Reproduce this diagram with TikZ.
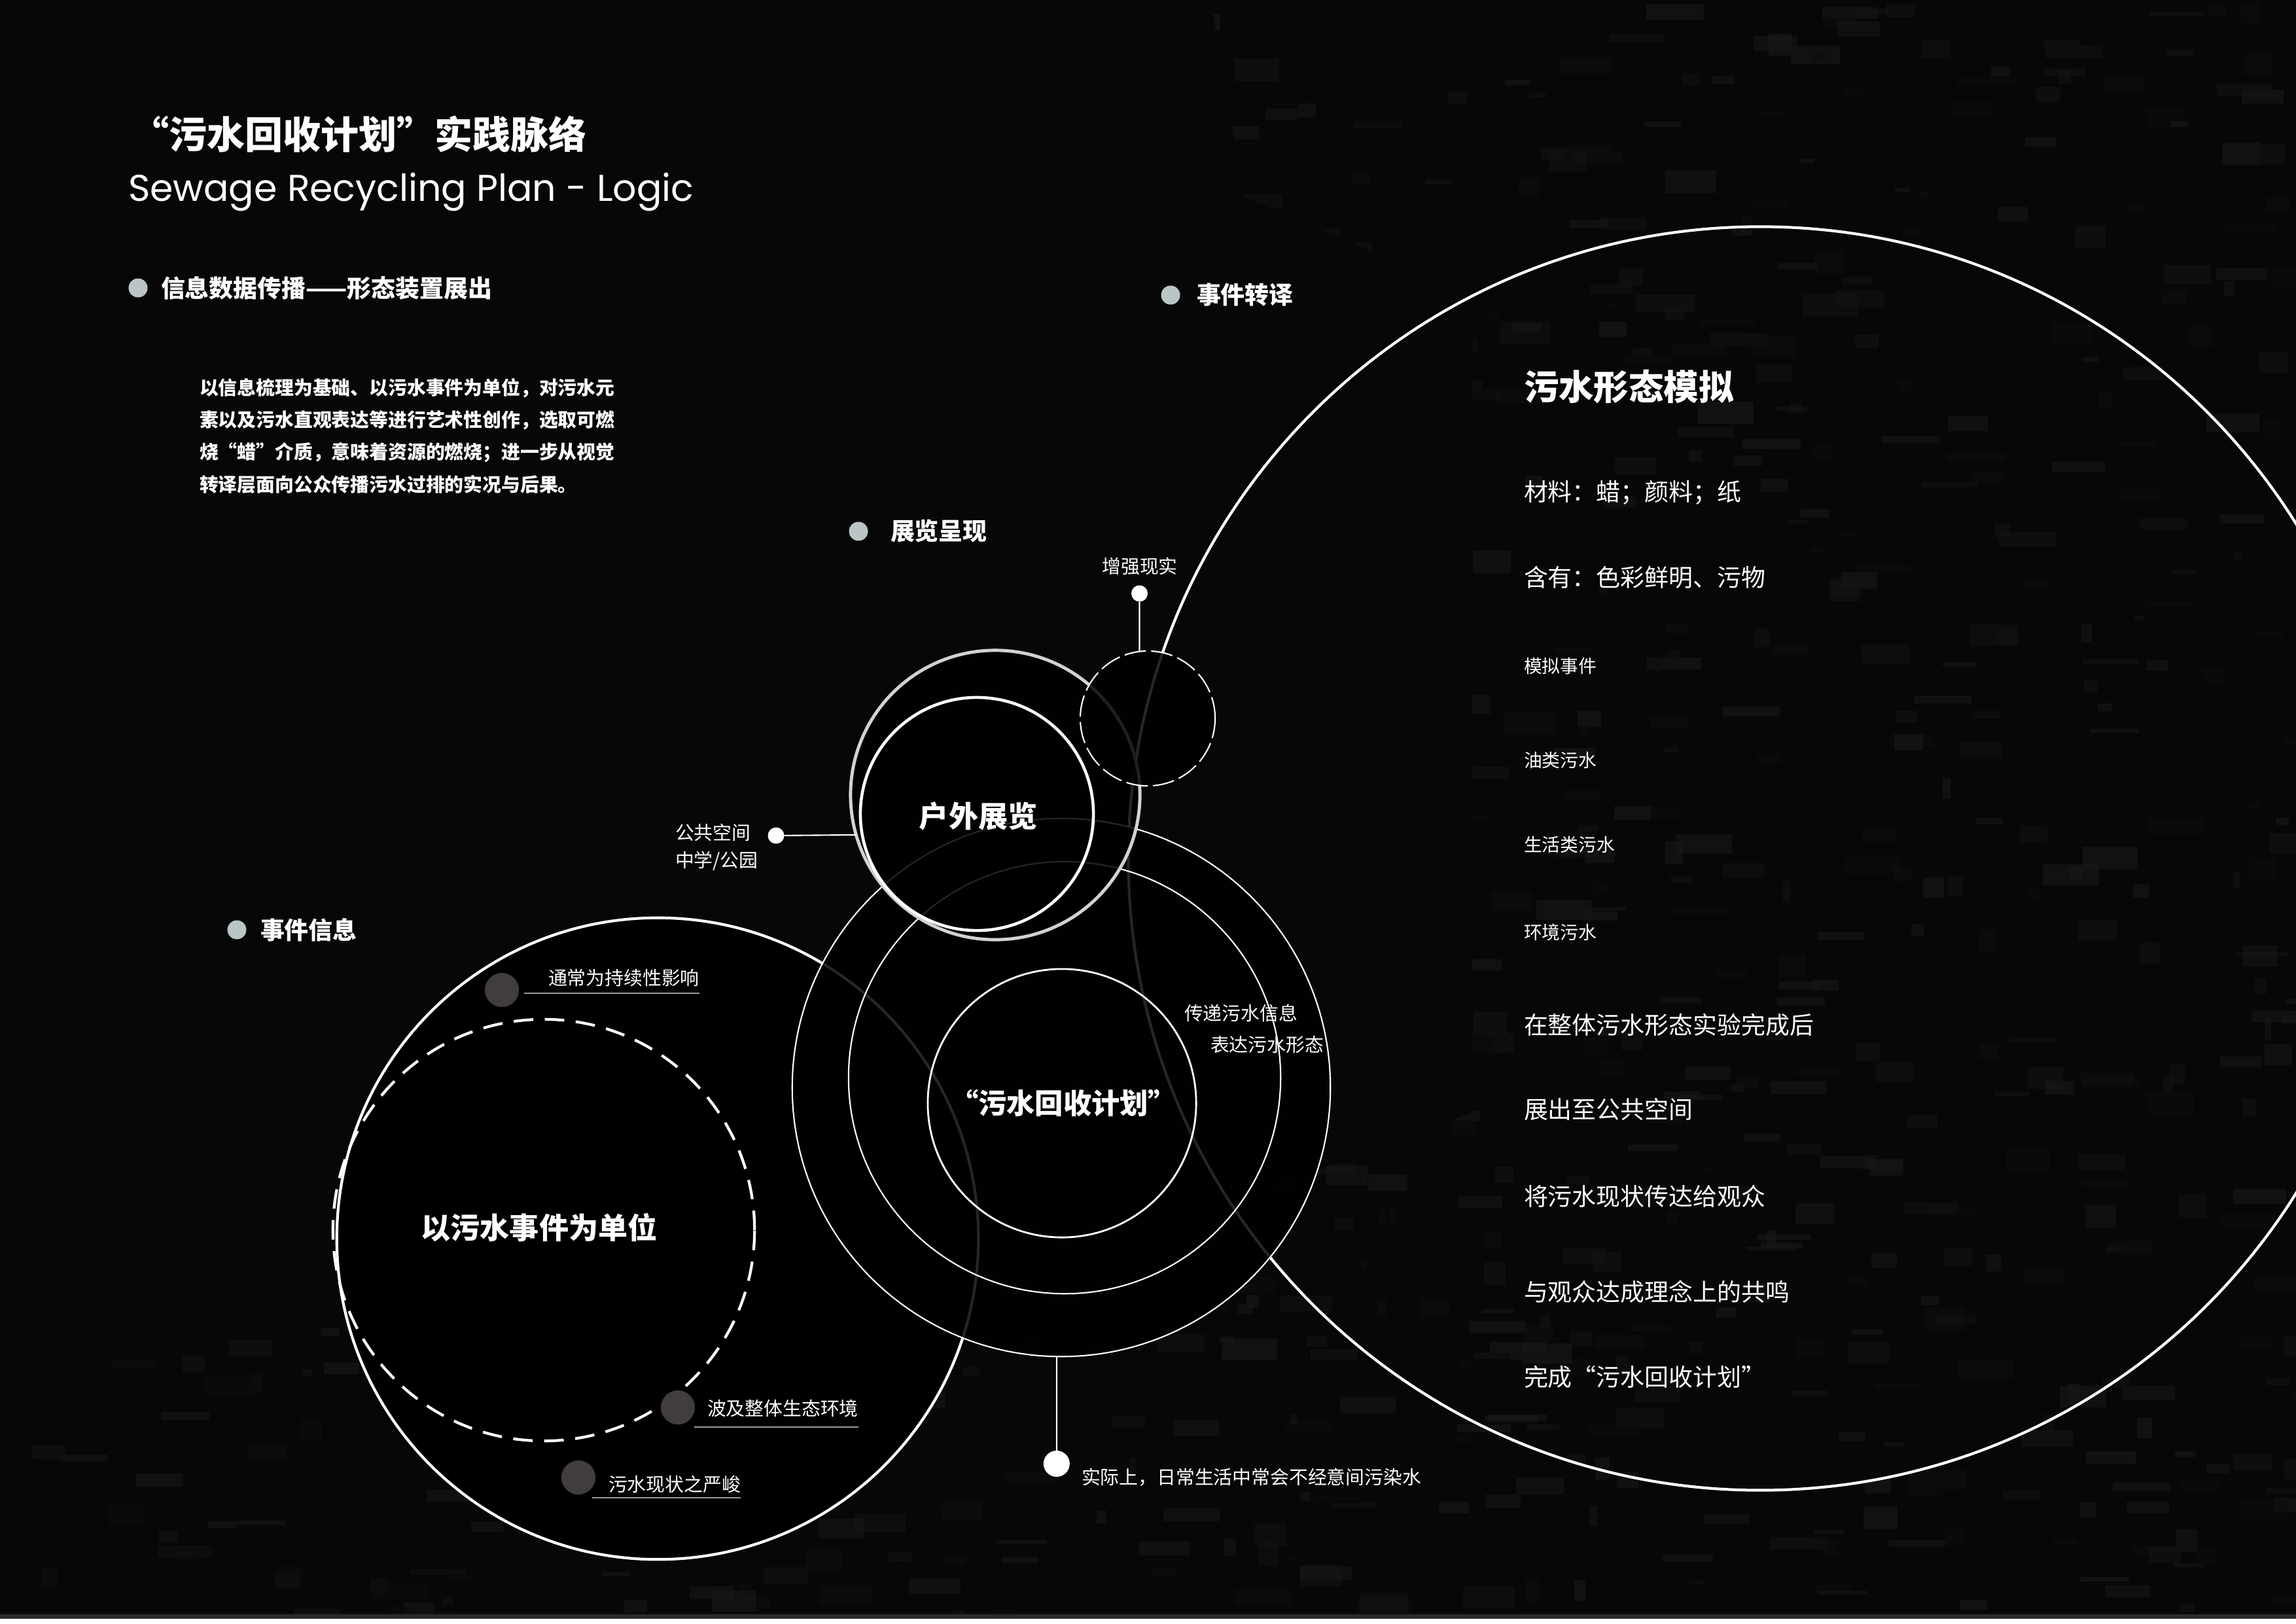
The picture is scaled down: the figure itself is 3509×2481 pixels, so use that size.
\documentclass[tikz,border=0pt]{standalone}
\usepackage{fontspec}
\setmainfont{Noto Sans CJK SC}
\newfontfamily\enfont{Poppins}
\usetikzlibrary{calc}
\definecolor{bg}{HTML}{070707}
\definecolor{bulcol}{HTML}{B9C5C6}
\definecolor{planetgray}{HTML}{403D3C}
\definecolor{ringgray}{HTML}{D2D2D2}
\definecolor{ulgray}{HTML}{9A9A9A}
\definecolor{bandgray}{HTML}{2C2A2A}
\tikzset{
  fs/.style={font=\fontsize{#1}{#1}\selectfont},
  fsb/.style={font=\fontsize{#1}{#1}\selectfont\bfseries},
  bul/.style={circle, fill=bulcol, minimum size=0.29cm, inner sep=0pt},
  ring/.style={circle, draw=white, inner sep=0pt, outer sep=0pt},
  pin/.style={circle, fill=white, inner sep=0pt},
  planet/.style={circle, fill=planetgray, draw=black, line width=1.6pt, minimum size=0.58cm, inner sep=0pt},
  uline/.style={draw=ulgray, line width=0.45pt},
  pinline/.style={draw=white, line width=0.6pt},
  dimfill/.style={fill=black, fill opacity=0.85},
}
\begin{document}
\begin{tikzpicture}[x=0.01cm, y=-0.01cm, every node/.style={inner sep=0pt, outer sep=0pt, text=white}]
\useasboundingbox (0,0) rectangle (3509,2481);
% background
\fill[bg] (0,0) rectangle (3509,2467);
\fill[bandgray] (0,2467) rectangle (3509,2474);
\fill[white] (0,2474) rectangle (3509,2481);
\begin{scope}
  \clip (1850,0) -- (3509,0) -- (3509,2467) -- (0,2467) -- (0,2050) -- (1500,1980) -- (2250,1700) -- (2250,450) -- (1900,300) -- cycle;
  \pgfmathsetseed{11}
  \foreach \i in {1,...,1100}{
    \pgfmathsetmacro{\px}{random(0,3509)}
    \pgfmathsetmacro{\py}{random(0,2467)}
    \pgfmathsetmacro{\w}{random(10,90)}
    \pgfmathsetmacro{\h}{random(6,35)}
    \pgfmathsetmacro{\g}{random(5,10)}
    \fill[white!\g!black, opacity=0.6] (\px,\py) rectangle ++(\w,\h);
  }
\end{scope}

% big circles
\node[ring, line width=1.2pt, minimum size=19.3cm] (big) at (2690,1312) {};
\node[ring, line width=1.2pt, fill=black, minimum size=9.8cm] (left) at (1005,1893) {};
\node[circle, draw=white, line width=1.2pt, dash pattern=on 8.5pt off 5pt, minimum size=6.44cm] (dashl) at (831,1880) {};

% planets and labels in left circle
\node[planet] (d1) at (767,1513) {};
\node[planet] (d2) at (1036,2151) {};
\node[planet] (d3) at (884,2258) {};
\node[fs=8.2pt, anchor=west] (l1) at (838,1495) {通常为持续性影响};
\node[fs=8.2pt, anchor=west] (l2) at (1081,2152) {波及整体生态环境};
\node[fs=8.2pt, anchor=west] (l3) at (930,2268) {污水现状之严峻};
\coordinate (u1s) at (801,1518);
\coordinate (u2s) at (1061,2181);
\coordinate (u3s) at (905,2289);
\draw[uline] (u1s) -- (u1s -| l1.east);
\draw[uline] (u2s) -- (u2s -| l2.east);
\draw[uline] (u3s) -- (u3s -| l3.east);
\node[fsb=12.8pt] (unit) at (824,1876) {以污水事件为单位};

% concentric circles
\node[ring, line width=0.6pt, dimfill, minimum size=8.22cm] (co) at (1622,1662) {};
\node[ring, line width=0.6pt, minimum size=6.6cm] (cm) at (1627,1647) {};
\node[ring, line width=0.8pt, minimum size=4.1cm] (ci) at (1623,1686) {};

% outdoor exhibition circles
\node[circle, draw=ringgray, line width=1.4pt, dimfill, minimum size=4.42cm] (ho) at (1521,1215) {};
\node[ring, line width=1.3pt, minimum size=3.56cm] (hi) at (1493,1244) {};

% AR dashed circle
\node[circle, draw=white, line width=0.6pt, dash pattern=on 9.4pt off 2.3pt, dimfill, minimum size=2.06cm] (ar) at (1754,1098) {};

% pins
\node[pin, minimum size=0.25cm] (arDot) at (1741.5,907) {};
\node[fs=8.2pt] (arT) at (1742,866) {增强现实};
\draw[pinline] (arDot) -- (ar.97);

\node[pin, minimum size=0.25cm] (pubDot) at (1186,1277) {};
\node[fs=8.2pt, anchor=west] (pubT1) at (1032,1272) {公共空间};
\node[fs=8.2pt, anchor=west] (pubT2) at (1032,1316) {中学/公园};
\draw[pinline] (pubDot) -- (ho.196);

\node[pin, minimum size=0.4cm] (botDot) at (1614.8,2237) {};
\draw[pinline] (co.269) -- (botDot);
\node[fs=8.2pt, anchor=west] (botT) at (1653,2258) {实际上，日常生活中常会不经意间污染水};

% centre texts
\node[fsb=12.8pt] (outdoor) at (1495,1247) {户外展览};
\node[fsb=12.3pt] (plan) at (1625,1686) {“污水回收计划”};
\node[fs=8.2pt, anchor=west] (info1) at (1810,1548) {传递污水信息};
\node[fs=8.2pt, anchor=west] (info2) at (1850,1597) {表达污水形态};

% titles
\node[fsb=16.5pt, anchor=west] (title) at (200,205) {“污水回收计划”实践脉络};
\node[font=\enfont\fontsize{16.2pt}{16.2pt}\selectfont, anchor=base west] (entitle) at (196,307) {Sewage Recycling Plan - Logic};

% bullets
\node[bul] (b1) at (211,440) {};
\node[fsb=10.5pt, anchor=west] (b1t) at (246,440) {信息数据传播——形态装置展出};
\node[bul] (b2) at (1789,451) {};
\node[fsb=10.5pt, anchor=west] (b2t) at (1829,451) {事件转译};
\node[bul] (b3) at (1312,812) {};
\node[fsb=10.5pt, anchor=west] (b3t) at (1361,812) {展览呈现};
\node[bul] (b4) at (362,1421) {};
\node[fsb=10.5pt, anchor=west] (b4t) at (398,1421) {事件信息};

% paragraph
\node[fsb=8.2pt, anchor=west] (p1) at (305,593) {以信息梳理为基础、以污水事件为单位，对污水元};
\node[fsb=8.2pt, anchor=west] (p2) at (305,642) {素以及污水直观表达等进行艺术性创作，选取可燃};
\node[fsb=8.2pt, anchor=west] (p3) at (305,692) {烧“蜡”介质，意味着资源的燃烧；进一步从视觉};
\node[fsb=8.2pt, anchor=west] (p4) at (305,740) {转译层面向公众传播污水过排的实况与后果。};

% right column
\node[fsb=15.2pt, anchor=west] (r0) at (2329,591) {污水形态模拟};
\node[fs=10.5pt, anchor=west] (r1) at (2329,753) {材料：蜡；颜料；纸};
\node[fs=10.5pt, anchor=west] (r2) at (2329,883) {含有：色彩鲜明、污物};
\node[fs=7.9pt, anchor=west] (r3) at (2329,1018) {模拟事件};
\node[fs=7.9pt, anchor=west] (r4) at (2329,1162) {油类污水};
\node[fs=7.9pt, anchor=west] (r5) at (2329,1291) {生活类污水};
\node[fs=7.9pt, anchor=west] (r6) at (2329,1425) {环境污水};
\node[fs=10.5pt, anchor=west] (r7) at (2329,1566) {在整体污水形态实验完成后};
\node[fs=10.5pt, anchor=west] (r8) at (2329,1695) {展出至公共空间};
\node[fs=10.5pt, anchor=west] (r9) at (2329,1828) {将污水现状传达给观众};
\node[fs=10.5pt, anchor=west] (r10) at (2329,1974) {与观众达成理念上的共鸣};
\node[fs=10.5pt, anchor=west] (r11) at (2329,2104) {完成“污水回收计划”};
\end{tikzpicture}
\end{document}
